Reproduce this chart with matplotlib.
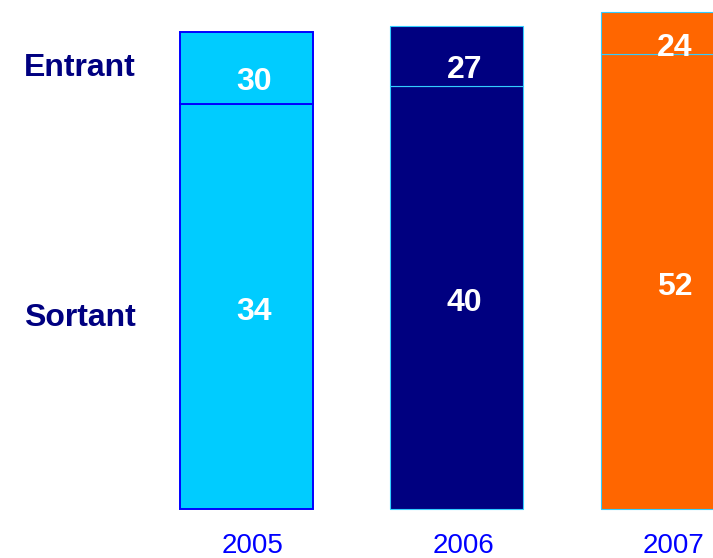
import numpy as np
import matplotlib.pyplot as plt

plt.rcParams['font.family'] = ['Liberation Sans', 'DejaVu Sans']

# données
annees = ['2005', '2006', '2007']
sortant = [34, 40, 52]          # valeurs affichées
entrant = [30, 27, 24]
h_sortant = [405, 423, 455]     # hauteur des segments
h_entrant = [72, 60, 42]
couleurs = ['#00CCFF', '#000080', '#FF6600']
bords = ['#0000FF', '#33CCFF', '#33CCFF']

fig = plt.figure(figsize=(7.13, 5.58), dpi=100)
ax = fig.add_axes([0, 0, 1, 1])
ax.set_xlim(-246 / 210.5, (713 - 246) / 210.5)
ax.set_ylim(-49, 509)
ax.axis('off')

x = np.arange(len(annees))
larg = 133 / 210.5
dx = 8 / 210.5     # petit decalage des textes vers la droite

for i in range(len(annees)):
    lw = 1.4 if i == 0 else 0.8
    ax.bar(x[i], h_sortant[i], width=larg, color=couleurs[i], edgecolor=bords[i], linewidth=lw)
    ax.bar(x[i], h_entrant[i], width=larg, bottom=h_sortant[i], color=couleurs[i],
           edgecolor=bords[i], linewidth=lw)
    # valeurs
    ys = h_sortant[i] / 2 - 2
    ye = h_sortant[i] + h_entrant[i] / 2 - 11
    ax.text(x[i] + dx, ys - 11.5, str(sortant[i]), color='white', fontsize=23,
            fontweight='bold', ha='center', va='baseline')
    ax.text(x[i] + dx, ye - 11.5, str(entrant[i]), color='white', fontsize=23,
            fontweight='bold', ha='center', va='baseline')
    # annees
    ax.text(x[i] + 7 / 210.5, -44, annees[i], color='#0000FF', fontsize=20,
            ha='center', va='baseline')

ax.text(-222 / 210.5, 433, 'Entrant', color='#000080', fontsize=23, fontweight='bold',
        ha='left', va='baseline')
ax.text(-222 / 210.5, 183, 'Sortant', color='#000080', fontsize=23, fontweight='bold',
        ha='left', va='baseline')

fig.savefig('out.png', dpi=100)
